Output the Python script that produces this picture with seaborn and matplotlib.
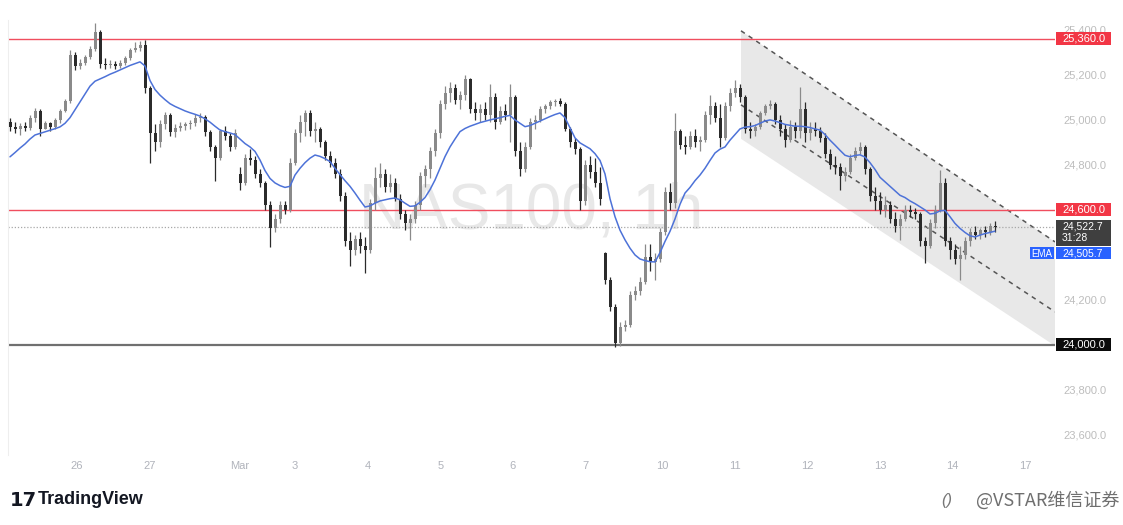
import numpy as np
import pandas as pd
import matplotlib
matplotlib.use("Agg")
import matplotlib.pyplot as plt
import matplotlib.transforms as mtransforms
from matplotlib.patches import Rectangle, Polygon
import seaborn as sns

# ---------------- data (NAS100, 1h) ----------------
first_open = 24990
gap_opens = {46: 24760, 119: 24410}

closes = [24970, 24960, 24975, 24965, 25010, 25040, 24960, 24985, 24970, 25000,
          25040, 25085, 25290, 25240, 25255, 25280, 25315, 25390, 25250, 25245,
          25250, 25240, 25255, 25275, 25310, 25320, 25335, 25140, 24940, 24900,
          24980, 25020, 24945, 24965, 24975, 24980, 24985, 25010, 25015, 24945,
          24880, 24830, 24950, 24930, 24880, 24940, 24720, 24830, 24820, 24760,
          24720, 24620, 24520, 24560, 24620, 24600, 24810, 24940, 24990, 25030,
          24950, 24960, 24900, 24840, 24810, 24760, 24660, 24460, 24420, 24470,
          24440, 24420, 24630, 24740, 24760, 24700, 24720, 24650, 24580, 24540,
          24560, 24620, 24750, 24780, 24860, 24940, 25070, 25120, 25140, 25090,
          25110, 25180, 25050, 25030, 25050, 25020, 25100, 24990, 25040, 25020,
          25100, 24860, 24780, 24880, 24990, 25000, 25050, 25060, 25080, 25085,
          25070, 24960, 24900, 24870, 24640, 24800, 24770, 24720, 24650, 24290,
          24170, 24010, 24080, 24090, 24220, 24240, 24280, 24390, 24370, 24380,
          24500, 24680, 24630, 24950, 24890, 24880, 24930, 24900, 24910, 25020,
          25060, 25010, 24920, 25060, 25120, 25140, 25100, 24960, 24950, 24970,
          25030, 25060, 25070, 25000, 24960, 24910, 24970, 24950, 25050, 24940,
          24960, 24950, 24920, 24850, 24800, 24790, 24750, 24770, 24830, 24860,
          24880, 24780, 24660, 24640, 24600, 24620, 24560, 24530, 24560, 24600,
          24590, 24580, 24460, 24440, 24540, 24600, 24720, 24460, 24420, 24380,
          24400, 24460, 24500, 24490, 24510, 24500, 24530, 24522.7]

highs = [25010, 24990, 24985, 24990, 25020, 25055, 25050, 24995, 24990, 25010,
         25050, 25095, 25310, 25300, 25270, 25290, 25330, 25430, 25400, 25275,
         25265, 25260, 25265, 25285, 25320, 25345, 25350, 25355, 25150, 24980,
         25000, 25035, 25030, 24980, 24990, 24990, 25000, 25025, 25030, 25020,
         24955, 24890, 24960, 24975, 24940, 24960, 24790, 24850, 24870, 24840,
         24780, 24730, 24640, 24580, 24640, 24640, 24830, 24960, 25020, 25045,
         25045, 24990, 24970, 24910, 24860, 24830, 24780, 24680, 24500, 24490,
         24500, 24480, 24650, 24790, 24810, 24780, 24760, 24740, 24670, 24600,
         24580, 24640, 24770, 24800, 24880, 24960, 25090, 25150, 25170, 25160,
         25130, 25200, 25185, 25080, 25070, 25080, 25160, 25120, 25060, 25070,
         25160, 25110, 24900, 24900, 25010, 25020, 25060, 25070, 25090, 25095,
         25098, 25080, 24970, 24920, 24880, 24820, 24840, 24830, 24790, 24415,
         24300, 24180, 24100, 24110, 24240, 24260, 24300, 24450, 24450, 24410,
         24520, 24700, 24720, 25030, 24960, 24930, 24950, 24960, 24930, 25040,
         25110, 25080, 25070, 25080, 25140, 25178, 25160, 25110, 24990, 24980,
         25040, 25070, 25090, 25080, 25020, 24980, 25000, 24990, 25147, 25080,
         24990, 24990, 24970, 24940, 24870, 24840, 24810, 24790, 24850, 24880,
         24902, 24890, 24790, 24700, 24680, 24660, 24640, 24590, 24580, 24620,
         24620, 24610, 24590, 24480, 24560, 24620, 24778, 24740, 24480, 24450,
         24440, 24480, 24520, 24530, 24520, 24530, 24540, 24550]

lows = [24950, 24940, 24935, 24950, 24955, 24990, 24930, 24960, 24950, 24960,
        24985, 25035, 25075, 25220, 25225, 25245, 25270, 25305, 25230, 25225,
        25230, 25225, 25230, 25245, 25265, 25300, 25305, 25120, 24810, 24860,
        24880, 24960, 24930, 24925, 24950, 24955, 24960, 24975, 24990, 24930,
        24860, 24730, 24820, 24910, 24860, 24870, 24690, 24710, 24800, 24740,
        24700, 24600, 24436, 24500, 24540, 24580, 24590, 24800, 24900, 24930,
        24930, 24900, 24880, 24820, 24790, 24740, 24640, 24440, 24350, 24400,
        24410, 24320, 24410, 24600, 24700, 24680, 24680, 24640, 24560, 24510,
        24467, 24540, 24600, 24700, 24740, 24840, 24920, 25050, 25080, 25070,
        25050, 25090, 25030, 25000, 24990, 25000, 24990, 24960, 24980, 25000,
        24900, 24840, 24750, 24770, 24870, 24960, 24990, 25030, 25050, 25060,
        25060, 24950, 24880, 24850, 24600, 24620, 24740, 24700, 24620, 24270,
        24150, 23990, 23995, 24060, 24080, 24200, 24220, 24270, 24330, 24290,
        24370, 24490, 24600, 24610, 24870, 24850, 24870, 24880, 24860, 24900,
        24980, 24990, 24880, 24910, 25040, 25100, 25080, 24940, 24920, 24930,
        24960, 25020, 25050, 24980, 24930, 24880, 24900, 24920, 24920, 24900,
        24910, 24930, 24900, 24830, 24780, 24760, 24690, 24730, 24760, 24820,
        24850, 24760, 24640, 24600, 24580, 24570, 24540, 24500, 24467, 24550,
        24570, 24560, 24440, 24364, 24430, 24520, 24590, 24440, 24380, 24360,
        24289, 24380, 24440, 24470, 24470, 24480, 24490, 24500]

ema = [24836, 24855, 24875, 24893, 24915, 24933, 24940, 24947, 24954, 24961,
       24969, 24985, 25010, 25045, 25080, 25115, 25150, 25172, 25182, 25192,
       25203, 25212, 25222, 25232, 25242, 25250, 25258, 25240, 25175, 25135,
       25110, 25090, 25072, 25060, 25050, 25040, 25032, 25025, 25017, 25005,
       24990, 24972, 24955, 24948, 24942, 24935, 24915, 24895, 24880, 24860,
       24822, 24775, 24740, 24720, 24708, 24700, 24705, 24755, 24785, 24810,
       24830, 24844, 24838, 24828, 24815, 24785, 24757, 24730, 24705, 24675,
       24643, 24613, 24618, 24630, 24640, 24645, 24650, 24653, 24645, 24630,
       24616, 24618, 24634, 24655, 24690, 24733, 24785, 24837, 24880, 24915,
       24948, 24962, 24972, 24980, 24988, 24994, 25000, 25005, 25010, 25016,
       25020, 25000, 24985, 24970, 24975, 24985, 24995, 25005, 25015, 25024,
       25031, 25010, 24965, 24920, 24898, 24885, 24872, 24850, 24820, 24760,
       24650, 24570, 24510, 24467, 24430, 24400, 24382, 24375, 24370, 24369,
       24410, 24460, 24505, 24560, 24625, 24675, 24700, 24730, 24755, 24785,
       24820, 24853, 24870, 24880, 24910, 24935, 24960, 24968, 24970, 24975,
       24985, 24995, 25000, 24995, 24988, 24980, 24976, 24972, 24972, 24970,
       24966, 24960, 24955, 24935, 24910, 24888, 24865, 24843, 24836, 24842,
       24845, 24835, 24810, 24780, 24745, 24725, 24705, 24685, 24665, 24655,
       24640, 24628, 24614, 24600, 24582, 24585, 24596, 24598, 24570, 24540,
       24518, 24500, 24485, 24480, 24488, 24495, 24500, 24505.7]

# time axis labels (bar index -> label)
tick_pos = [13.4, 28, 46, 57, 71.6, 86.2, 100.6, 115, 130.4, 145, 159.4, 174, 188.4, 203]
tick_lab = ["26", "27", "Mar", "3", "4", "5", "6", "7", "10", "11", "12", "13", "14", "17"]

# horizontal levels
red_levels = [25360, 24600]
support_level = 24000
last_price = 24522.7
last_ema = 24505.7
countdown = "31:28"

# descending channel drawing (bar index, price)
channel_x = [146.2, 209.0]
channel_top = [25396, 24458]
channel_mid = [25067, 24147]
channel_bot = [24916, 23996]

# price scale labels that are not hidden behind the badges
price_ticks = [23600, 23800, 24200, 24800, 25000, 25200, 25400]

# ---------------- figure ----------------
sns.set_theme(style="white")
plt.rcParams['font.family'] = ['Liberation Sans', 'Noto Sans CJK SC', 'DejaVu Sans']

W, H = 1123, 525
fig = plt.figure(figsize=(W / 100, H / 100), dpi=100)
ax_l, ax_r, ax_t, ax_b = 8, 1055, 20, 455
ax = fig.add_axes([ax_l / W, 1 - ax_b / H, (ax_r - ax_l) / W, (ax_b - ax_t) / H])
ax.set_facecolor("white")

n = len(closes)
idx = np.arange(n)
opens = [first_open] + closes[:-1]
for k, v in gap_opens.items():
    opens[k] = v
df = pd.DataFrame({"i": idx, "open": opens, "high": highs, "low": lows,
                   "close": closes, "ema": ema})

ylo, yhi = 23511, 25444
ax.set_xlim(-0.4, 209.0)
ax.set_ylim(ylo, yhi)

# watermark
ax.text(0.5, 0.56, "NAS100, 1h", transform=ax.transAxes, ha="center", va="center",
        fontsize=46, color="#e8e8e8", zorder=0, family=["Liberation Sans"])

# channel
poly = Polygon([[channel_x[0], channel_top[0]], [channel_x[1], channel_top[1]],
                [channel_x[1], channel_bot[1]], [channel_x[0], channel_bot[0]]],
               closed=True, facecolor="#e4e4e4", edgecolor="none", alpha=0.85, zorder=1)
ax.add_patch(poly)
ax.plot(channel_x, channel_top, ls=(0, (3, 3)), color="#555555", lw=1.1, zorder=2)
ax.plot(channel_x, channel_mid, ls=(0, (3, 3)), color="#555555", lw=1.1, zorder=2)

# horizontal levels
for lv in red_levels:
    ax.axhline(lv, color="#f04e5e", lw=1.0, zorder=2)
ax.axhline(support_level, color="#707070", lw=1.6, zorder=2)
ax.axhline(last_price, color="#a8a8a8", lw=0.9, ls=(0, (1, 1.5)), zorder=2)

# candles
up = df["close"] >= df["open"]
col = np.where(up, "#8a8a8a", "#2b2b2b")
hi = np.maximum(df["high"], np.maximum(df["open"], df["close"]))
lo = np.minimum(df["low"], np.minimum(df["open"], df["close"]))
ax.vlines(df["i"], lo, hi, colors=col, lw=0.9, zorder=3)
body_lo = np.minimum(df["open"], df["close"])
body_h = np.maximum(np.abs(df["close"] - df["open"]), 5)
ax.bar(df["i"], body_h, bottom=body_lo, width=0.6, color=col, linewidth=0, zorder=4)

# EMA
sns.lineplot(data=df, x="i", y="ema", ax=ax, color="#4d72d8", lw=1.1, zorder=5)

# axes styling
for s in ["top", "right", "bottom"]:
    ax.spines[s].set_visible(False)
ax.spines["left"].set_color("#eeeeee")
ax.spines["left"].set_linewidth(0.8)
ax.set_xlabel("")
ax.set_ylabel("")
ax.set_xticks(tick_pos)
ax.set_xticklabels(tick_lab)
ax.tick_params(axis="x", length=0, pad=4, labelsize=8, labelcolor="#b0b3bb")
ax.yaxis.tick_right()
ax.set_yticks(price_ticks)
ax.set_yticklabels([f"{v:,.1f}" for v in price_ticks])
ax.tick_params(axis="y", length=0, pad=6, labelsize=8, labelcolor="#bdbdbd")
ax.grid(False)

# price badges
bt = mtransforms.blended_transform_factory(ax.transAxes, ax.transData)
ppx = (yhi - ylo) / (ax_b - ax_t)  # price per pixel
bx0 = (1056 - ax_l) / (ax_r - ax_l)
bw = 55 / (ax_r - ax_l)
tx = (1062 - ax_l) / (ax_r - ax_l)


def badge(yc, hpx, color, lines, ycenters, fs=8):
    ax.add_patch(Rectangle((bx0, yc - hpx / 2 * ppx), bw, hpx * ppx, transform=bt,
                           facecolor=color, edgecolor="none", clip_on=False, zorder=6))
    for t, y in zip(lines, ycenters):
        ax.text(tx, y, t, transform=bt, ha="left", va="center", fontsize=fs,
                color="white", clip_on=False, zorder=7)


for lv in red_levels:
    badge(lv, 13, "#f23645", [f"{lv:,.1f}"], [lv])
badge(support_level, 13, "#0b0b0b", [f"{support_level:,.1f}"], [support_level])
yc_dark = last_price - 6 * ppx
badge(yc_dark, 26, "#3f3f3f", [f"{last_price:,.1f}", countdown],
      [last_price + 0.5 * ppx, last_price - 11.0 * ppx], fs=7.5)
yc_ema = last_price - 26 * ppx
badge(yc_ema, 12, "#2962ff", [f"{last_ema:,.1f}"], [yc_ema - 0.5 * ppx], fs=7.5)
ax.add_patch(Rectangle(((1030 - ax_l) / (ax_r - ax_l), yc_ema - 6 * ppx), 24 / (ax_r - ax_l),
                       12 * ppx, transform=bt, facecolor="#2962ff", edgecolor="none",
                       clip_on=False, zorder=6))
ax.text((1042 - ax_l) / (ax_r - ax_l), yc_ema - 0.5 * ppx, "EMA", transform=bt, ha="center",
        va="center", fontsize=7, color="white", zorder=7)

# footer
fig.text(10 / W, 1 - 500 / H, "17", fontsize=14, fontweight="heavy", color="#131722",
         va="center", ha="left", family=["DejaVu Sans"])
fig.text(38 / W, 1 - 500 / H, "TradingView", fontsize=13, fontweight="bold", color="#131722",
         va="center", ha="left")
fig.text(941 / W, 1 - 500 / H, "()", fontsize=12, color="#777777", va="center", ha="left",
         style="italic")
fig.text(1119 / W, 1 - 500 / H, "@VSTAR维信证券", fontsize=13, color="#6f6f6f",
         va="center", ha="right", family=["Noto Sans CJK SC", "DejaVu Sans"])

fig.savefig("out.png", dpi=100, facecolor="white")
